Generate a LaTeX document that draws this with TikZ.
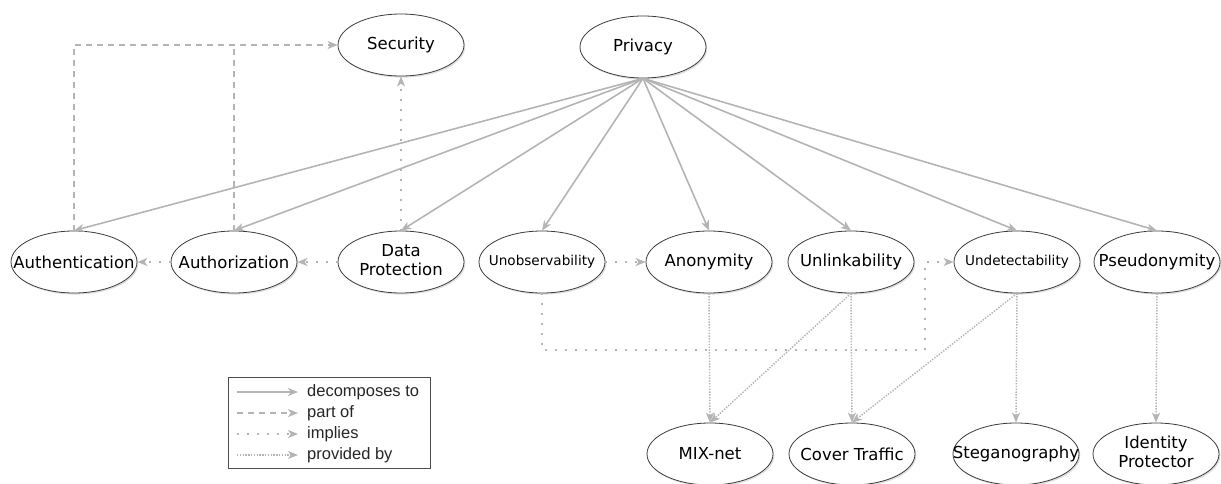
\documentclass[tikz,border=0pt]{standalone}
\usepackage{fontspec}
\newfontfamily\nodefont{DejaVu Sans}
\newfontfamily\legfont{Liberation Sans}
\usetikzlibrary{arrows.meta,shapes.geometric,shadows}
\definecolor{edgegray}{HTML}{B4B4B4}
\definecolor{outl}{HTML}{3A3A3A}
\newcommand{\ctrlab}[1]{\makebox[0pt]{#1}}
\begin{document}
\begin{tikzpicture}[x=1pt,y=-1pt,
  ell/.style={ellipse, draw=outl, line width=0.8pt, fill=white,
    minimum width=126pt, minimum height=62pt, inner sep=0pt,
    font=\nodefont\fontsize{16.5}{19.5}\selectfont,
    drop shadow={shadow xshift=1.3pt, shadow yshift=-1.6pt, opacity=0.25}},
  smalltxt/.style={font=\nodefont\fontsize{13.6}{16}\selectfont},
  arrtip/.style={-{Stealth[length=10pt,width=8pt,inset=2.8pt]}},
  dec/.style={draw=edgegray, line width=1.6pt, arrtip},
  partofline/.style={draw=edgegray, line width=1.6pt, dash pattern=on 6pt off 5pt},
  partof/.style={partofline, arrtip},
  implies/.style={draw=edgegray, line width=1.6pt, dash pattern=on 1.6pt off 8.4pt, arrtip},
  provby/.style={draw=edgegray, line width=1.5pt, dash pattern=on 1.4pt off 1.4pt, arrtip},
  legtxt/.style={anchor=west, inner sep=0pt, font=\legfont\fontsize{16.5}{18}\selectfont, text=black!85}
]
\useasboundingbox (0,0) rectangle (1221,484);

% nodes
\node[ell] (sec) at (401,45) {\ctrlab{Security}};
\node[ell] (priv) at (643,47) {\ctrlab{Privacy}};
\node[ell] (auth) at (74,262) {\ctrlab{Authentication}};
\node[ell] (authz) at (234,262) {\ctrlab{Authorization}};
\node[ell] (dp) at (401,262) {\ctrlab{\begin{tabular}{@{}c@{}}Data\\Protection\end{tabular}}};
\node[ell, smalltxt] (unob) at (542,262) {\ctrlab{Unobservability}};
\node[ell] (anon) at (709,262) {\ctrlab{Anonymity}};
\node[ell] (unlink) at (851,262) {\ctrlab{Unlinkability}};
\node[ell, smalltxt] (undet) at (1017,262) {\ctrlab{Undetectability}};
\node[ell] (pseudo) at (1157,262) {\ctrlab{Pseudonymity}};
\node[ell] (mix) at (710,454) {\ctrlab{MIX-net}};
\node[ell] (cover) at (852,454) {\ctrlab{Cover Traffic}};
\node[ell] (steg) at (1016,454) {\ctrlab{Steganography}};
\node[ell] (idp) at (1156,454) {\ctrlab{\begin{tabular}{@{}c@{}}Identity\\Protector\end{tabular}}};

% decomposes to
\foreach \t in {auth,authz,dp,unob,anon,unlink,undet,pseudo}
  \draw[dec] (priv.south) -- (\t.north);

% part of
\draw[partof] (auth.north) |- (sec.west);
\coordinate (jn) at (authz.north |- sec.west);
\draw[partofline] (authz.north) -- ([yshift=-1pt]jn);

% implies
\draw[implies] (dp.north) -- (sec.south);
\draw[implies] (dp.west) -- (authz.east);
\draw[implies] (authz.west) -- (auth.east);
\draw[implies] (unob.east) -- (anon.west);
\coordinate (imc) at (925,350);
\draw[implies] (unob.south) |- (imc) |- (undet.west);

% provided by
\draw[provby] (anon.south) -- (mix.north);
\draw[provby] (unlink.south) -- (mix.north);
\draw[provby] (unlink.south) -- (cover.north);
\draw[provby] (undet.south) -- (cover.north);
\draw[provby] (undet.south) -- (steg.north);
\draw[provby] (pseudo.south) -- (idp.north);

% legend
\node[draw=black!70, line width=0.8pt, minimum width=202pt, minimum height=91pt, inner sep=0pt] (legend) at (329,422.5) {};
\coordinate (l1a) at (237,392); \coordinate (l1b) at (298,392);
\coordinate (l2a) at (237,413); \coordinate (l2b) at (298,413);
\coordinate (l3a) at (237,434); \coordinate (l3b) at (298,434);
\coordinate (l4a) at (237,455); \coordinate (l4b) at (298,455);
\draw[dec] (l1a) -- (l1b);
\draw[partof] (l2a) -- (l2b);
\draw[implies] (l3a) -- (l3b);
\draw[provby] (l4a) -- (l4b);
\node[legtxt] (t1) at (307,392) {decomposes to};
\node[legtxt] (t2) at (307,413) {part of};
\node[legtxt] (t3) at (307,434) {implies};
\node[legtxt] (t4) at (307,455) {provided by};
\end{tikzpicture}
\end{document}
